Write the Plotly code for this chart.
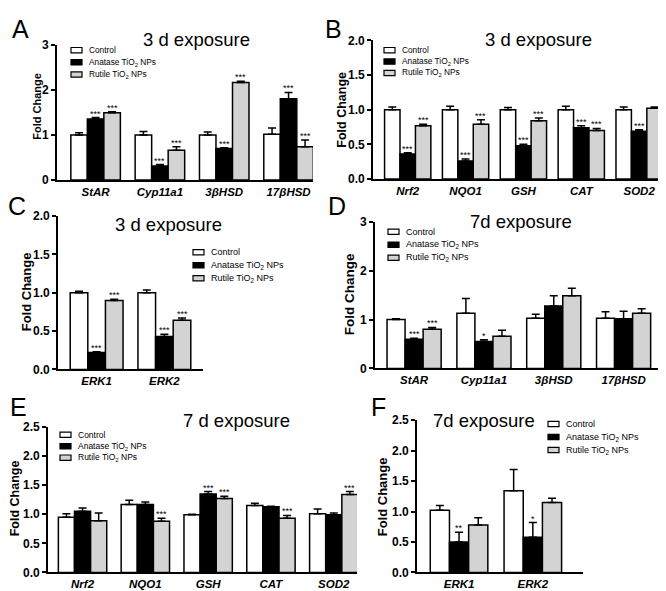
import plotly.graph_objects as go

W, H = 666, 591
FONT = "Liberation Sans, Arial, sans-serif"

# ---------------- data ----------------
series_names = ["Control", "Anatase TiO<sub>2</sub> NPs", "Rutile TiO<sub>2</sub> NPs"]
series_colors = ["#ffffff", "#000000", "#d3d3d3"]

# Panel A: 3 d exposure, steroidogenic genes
A_categories = ["StAR", "Cyp11a1", "3βHSD", "17βHSD"]
A_control = [1.00, 1.00, 1.00, 1.02]
A_control_err = [0.05, 0.08, 0.07, 0.14]
A_anatase = [1.36, 0.31, 0.70, 1.81]
A_anatase_err = [0.03, 0.035, 0.02, 0.14]
A_rutile = [1.50, 0.66, 2.17, 0.74]
A_rutile_err = [0.02, 0.08, 0.03, 0.15]
A_anatase_sig = ["***", "***", "***", "***"]
A_rutile_sig = ["***", "***", "***", "***"]

# Panel B: 3 d exposure, antioxidant genes
B_categories = ["Nrf2", "NQO1", "GSH", "CAT", "SOD2"]
B_control = [1.00, 1.00, 1.00, 1.00, 1.00]
B_control_err = [0.04, 0.05, 0.03, 0.05, 0.04]
B_anatase = [0.36, 0.26, 0.48, 0.74, 0.69]
B_anatase_err = [0.02, 0.03, 0.02, 0.03, 0.02]
B_rutile = [0.77, 0.79, 0.84, 0.70, 1.02]
B_rutile_err = [0.02, 0.065, 0.04, 0.03, 0.02]
B_anatase_sig = ["***", "***", "***", "***", "***"]
B_rutile_sig = ["***", "***", "***", "***", ""]

# Panel C: 3 d exposure, ERK
C_categories = ["ERK1", "ERK2"]
C_control = [1.00, 1.00]
C_control_err = [0.02, 0.035]
C_anatase = [0.22, 0.43]
C_anatase_err = [0.01, 0.03]
C_rutile = [0.90, 0.64]
C_rutile_err = [0.015, 0.03]
C_anatase_sig = ["***", "***"]
C_rutile_sig = ["***", "***"]

# Panel D: 7 d exposure, steroidogenic genes
D_categories = ["StAR", "Cyp11a1", "3βHSD", "17βHSD"]
D_control = [1.00, 1.13, 1.03, 1.03]
D_control_err = [0.02, 0.30, 0.08, 0.13]
D_anatase = [0.60, 0.55, 1.28, 1.02]
D_anatase_err = [0.02, 0.04, 0.21, 0.15]
D_rutile = [0.80, 0.66, 1.49, 1.13]
D_rutile_err = [0.04, 0.12, 0.15, 0.09]
D_anatase_sig = ["***", "*", "", ""]
D_rutile_sig = ["***", "", "", ""]

# Panel E: 7 d exposure, antioxidant genes
E_categories = ["Nrf2", "NQO1", "GSH", "CAT", "SOD2"]
E_control = [0.95, 1.17, 0.99, 1.15, 1.01]
E_control_err = [0.06, 0.07, 0.01, 0.04, 0.08]
E_anatase = [1.05, 1.17, 1.35, 1.13, 0.99]
E_anatase_err = [0.06, 0.04, 0.04, 0.01, 0.03]
E_rutile = [0.89, 0.88, 1.27, 0.93, 1.34]
E_rutile_err = [0.13, 0.05, 0.04, 0.05, 0.05]
E_anatase_sig = ["", "", "***", "", ""]
E_rutile_sig = ["", "***", "***", "***", "***"]

# Panel F: 7 d exposure, ERK
F_categories = ["ERK1", "ERK2"]
F_control = [1.02, 1.34]
F_control_err = [0.08, 0.35]
F_anatase = [0.50, 0.58]
F_anatase_err = [0.16, 0.24]
F_rutile = [0.78, 1.15]
F_rutile_err = [0.12, 0.07]
F_anatase_sig = ["**", "*"]
F_rutile_sig = ["", ""]

A_yticks = [0, 1, 2, 3]
B_yticks = [0.0, 0.5, 1.0, 1.5, 2.0]
C_yticks = [0.0, 0.5, 1.0, 1.5, 2.0]
D_yticks = [0, 1, 2, 3]
E_yticks = [0.0, 0.5, 1.0, 1.5, 2.0, 2.5]
F_yticks = [0.0, 0.5, 1.0, 1.5, 2.0, 2.5]

# ---------------- layout geometry (pixels) ----------------
panels = [
    dict(key="A", title="3 d exposure", cats=A_categories,
         vals=[A_control, A_anatase, A_rutile], errs=[A_control_err, A_anatase_err, A_rutile_err],
         sig=[None, A_anatase_sig, A_rutile_sig], yticks=A_yticks, tickfmt="d",
         px=(49, 305), py=(31, 169), xr=(-0.6, 3.38), ymax=3, group=0.77,
         title_xy=(188, 25), letter_xy=(12, 14), ytitle_xy=(29, 93), ytitle_size=11,
         leg_xy=(63, 36), leg_dy=12.5, leg_size=8.3),
    dict(key="B", title="3 d exposure", cats=B_categories,
         vals=[B_control, B_anatase, B_rutile], errs=[B_control_err, B_anatase_err, B_rutile_err],
         sig=[None, B_anatase_sig, B_rutile_sig], yticks=B_yticks, tickfmt=".1f",
         px=(365, 656), py=(26, 168), xr=(-0.6, 4.43), ymax=2, group=0.8,
         title_xy=(530, 25), letter_xy=(325, 14), ytitle_xy=(334, 97), ytitle_size=12.5,
         leg_xy=(376, 36), leg_dy=11.7, leg_size=8.3),
    dict(key="C", title="3 d exposure", cats=C_categories,
         vals=[C_control, C_anatase, C_rutile], errs=[C_control_err, C_anatase_err, C_rutile_err],
         sig=[None, C_anatase_sig, C_rutile_sig], yticks=C_yticks, tickfmt=".1f",
         px=(50, 195), py=(206, 363), xr=(-0.57, 1.57), ymax=2, group=0.78,
         title_xy=(160, 215), letter_xy=(9, 196), ytitle_xy=(18, 284), ytitle_size=13,
         leg_xy=(185, 243), leg_dy=13.3, leg_size=9),
    dict(key="D", title="7d exposure", cats=D_categories,
         vals=[D_control, D_anatase, D_rutile], errs=[D_control_err, D_anatase_err, D_rutile_err],
         sig=[None, D_anatase_sig, D_rutile_sig], yticks=D_yticks, tickfmt="d",
         px=(367, 654), py=(212, 362), xr=(-0.56, 3.55), ymax=3, group=0.775,
         title_xy=(513, 211), letter_xy=(329, 196), ytitle_xy=(341, 286), ytitle_size=13.5,
         leg_xy=(380, 222), leg_dy=13.3, leg_size=9),
    dict(key="E", title="7 d exposure", cats=E_categories,
         vals=[E_control, E_anatase, E_rutile], errs=[E_control_err, E_anatase_err, E_rutile_err],
         sig=[None, E_anatase_sig, E_rutile_sig], yticks=E_yticks, tickfmt=".1f",
         px=(40, 349), py=(422, 571), xr=(-0.55, 4.37), ymax=2.5, group=0.77,
         title_xy=(228, 415), letter_xy=(10, 401), ytitle_xy=(7, 495), ytitle_size=12.5,
         leg_xy=(52, 430), leg_dy=11.7, leg_size=8.5),
    dict(key="F", title="7d exposure", cats=F_categories,
         vals=[F_control, F_anatase, F_rutile], errs=[F_control_err, F_anatase_err, F_rutile_err],
         sig=[None, F_anatase_sig, F_rutile_sig], yticks=F_yticks, tickfmt=".1f",
         px=(409, 575), py=(415, 571), xr=(-0.57, 1.68), ymax=2.5, group=0.78,
         title_xy=(476, 415), letter_xy=(370, 401), ytitle_xy=(374, 494), ytitle_size=13,
         leg_xy=(540, 419), leg_dy=13.3, leg_size=9),
]


def fx(x):
    return x / W


def fy(y):
    return 1 - y / H


fig = go.Figure()
annotations = []
shapes = []

for k, p in enumerate(panels):
    n = k + 1
    xa = "x" if n == 1 else f"x{n}"
    ya = "y" if n == 1 else f"y{n}"
    w = p["group"] / 3
    idx = list(range(len(p["cats"])))
    for j in range(3):
        xs = [i + (j - 1) * w for i in idx]
        fig.add_trace(go.Bar(
            x=xs, y=p["vals"][j], width=w, xaxis=xa, yaxis=ya,
            marker=dict(color=series_colors[j], line=dict(color="black", width=1.5)),
            error_y=dict(type="data", array=p["errs"][j], arrayminus=[0] * len(idx),
                         symmetric=False, color="black", thickness=1.5, width=4),
            showlegend=False, name=series_names[j],
        ))
        if p["sig"][j] is not None:
            for i in idx:
                if p["sig"][j][i]:
                    annotations.append(dict(
                        text=p["sig"][j][i], x=xs[i], y=p["vals"][j][i] + p["errs"][j][i],
                        xref=xa, yref=ya, showarrow=False, xanchor="center", yanchor="bottom",
                        yshift=-3, font=dict(family=FONT, size=9, color="black")))

    xkey = "xaxis" if n == 1 else f"xaxis{n}"
    ykey = "yaxis" if n == 1 else f"yaxis{n}"
    fig.layout[xkey] = dict(
        domain=[fx(p["px"][0]), fx(p["px"][1])], range=list(p["xr"]), anchor=ya,
        showgrid=False, zeroline=False, showline=True, linecolor="black", linewidth=1.6,
        ticks="", tickmode="array", tickvals=idx,
        ticktext=[f"<i>{c}</i>" for c in p["cats"]],
        tickfont=dict(family=FONT, size=11.5, color="black", weight="bold"),
    )
    fig.layout[ykey] = dict(
        domain=[fy(p["py"][1]), fy(p["py"][0])], range=[0, p["ymax"]], anchor=xa,
        showgrid=False, zeroline=False, showline=True, linecolor="black", linewidth=1.6,
        ticks="outside", ticklen=4, tickwidth=1.5, tickcolor="black",
        tickmode="array", tickvals=p["yticks"],
        ticktext=[format(v, p["tickfmt"]) if p["tickfmt"] != "d" else str(int(v)) for v in p["yticks"]],
        tickfont=dict(family=FONT, size=12, color="black", weight="bold"),
    )

    # panel title
    annotations.append(dict(text=p["title"], x=fx(p["title_xy"][0]), y=fy(p["title_xy"][1]),
                            xref="paper", yref="paper", showarrow=False, xanchor="center", yanchor="middle",
                            font=dict(family=FONT, size=18.5, color="black")))
    # panel letter
    annotations.append(dict(text=p["key"], x=fx(p["letter_xy"][0]), y=fy(p["letter_xy"][1]),
                            xref="paper", yref="paper", showarrow=False, xanchor="center", yanchor="middle",
                            font=dict(family=FONT, size=25, color="black")))
    # y axis title
    annotations.append(dict(text="<b>Fold Change</b>", x=fx(p["ytitle_xy"][0]), y=fy(p["ytitle_xy"][1]),
                            xref="paper", yref="paper", showarrow=False, xanchor="center", yanchor="middle",
                            textangle=-90, font=dict(family=FONT, size=p["ytitle_size"], color="black")))
    # legend
    lx, ly = p["leg_xy"]
    for j in range(3):
        yy = ly + j * p["leg_dy"]
        shapes.append(dict(type="rect", xref="paper", yref="paper",
                           x0=fx(lx), x1=fx(lx + 11), y0=fy(yy - 2.7), y1=fy(yy + 2.7),
                           fillcolor=series_colors[j], line=dict(color="black", width=1.2)))
        annotations.append(dict(text=series_names[j], x=fx(lx + 16), y=fy(yy),
                                xref="paper", yref="paper", showarrow=False, xanchor="left", yanchor="middle",
                                font=dict(family=FONT, size=p["leg_size"], color="black")))

fig.update_layout(
    width=W, height=H, margin=dict(l=0, r=0, t=0, b=0),
    paper_bgcolor="white", plot_bgcolor="white",
    barmode="overlay", showlegend=False,
    annotations=annotations, shapes=shapes,
    font=dict(family=FONT, color="black"),
)

fig.write_html("out.html")
